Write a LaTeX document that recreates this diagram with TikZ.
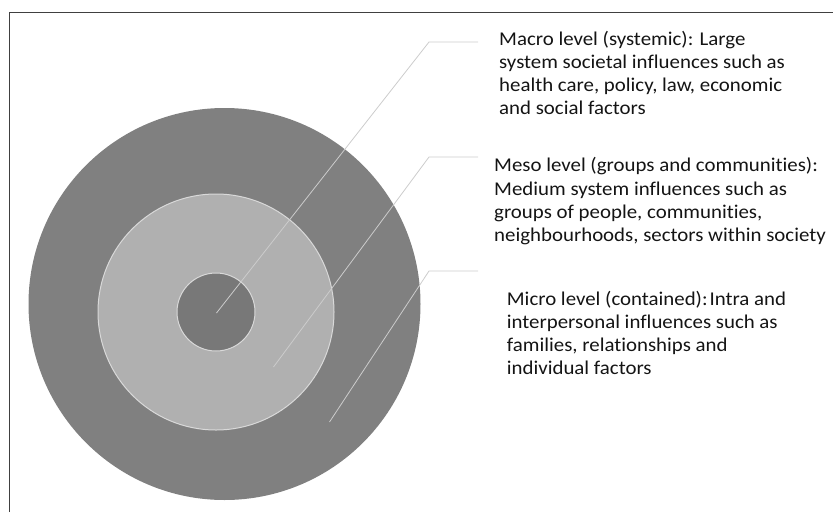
\documentclass[tikz,border=0pt]{standalone}
\usepackage{fontspec}
\setmainfont{Carlito}[FakeStretch=1.07, Ligatures=NoCommon]
\definecolor{ringdark}{gray}{0.50}
\definecolor{ringmid}{gray}{0.69}
\definecolor{ringcore}{gray}{0.47}
\tikzset{
  ring/.style = {
    draw=white!85!black, line width=1pt
  },
  leader/.style = {
    draw=white!80!black, line width=.8pt
  },
  level text/.style = {
    anchor=base west, align=left, inner sep=0pt, text=black!92,
    font=\fontsize{19.5}{23.3}\selectfont
  }
}
\begin{document}
\begin{tikzpicture}[x=1pt, y=-1pt]
    \useasboundingbox (0,0) rectangle (833,512);
    % le cadre
    \draw[line width=1pt, black!75] (9.5,512) -- (9.5,12) -- (833,12);
    % les coordonnées
    \path
      (216.5,313) coordinate (C1)
      (429,42) coordinate (C1b)
      (478,42) coordinate (C1e)
      (273.5,367) coordinate (C2)
      (429,157) coordinate (C2b)
      (478,157) coordinate (C2e)
      (329.5,422) coordinate (C3)
      (429,271) coordinate (C3b)
      (478,271) coordinate (C3e)
    ;
    % les cercles
    \fill[ringdark] (224.5,304) circle (196pt);
    \path[ring, fill=ringmid] (216,312) circle (118pt);
    \path[ring, fill=ringcore] (216,312) circle (39pt);
    % les traits
    \draw[leader] (C1) -- (C1b) -- (C1e);
    \draw[leader] (C2) -- (C2b) -- (C2e);
    \draw[leader] (C3) -- (C3b) -- (C3e);
    % les textes (ancre sur la derniere ligne)
    \node[level text] (macro) at (499,114.9)
      {Macro level (systemic): Large\\system societal influences such as\\health care, policy, law, economic\\and social factors};
    \node[level text] (meso) at (494,241.6)
      {Meso level (groups and communities):\\Medium system influences such as\\groups of people, communities,\\neighbourhoods, sectors within society};
    \node[level text] (micro) at (506.7,374.9)
      {Micro level (contained):\hspace{.1em}Intra and\\interpersonal influences such as\\families, relationships and\\individual factors};
\end{tikzpicture}
\end{document}
